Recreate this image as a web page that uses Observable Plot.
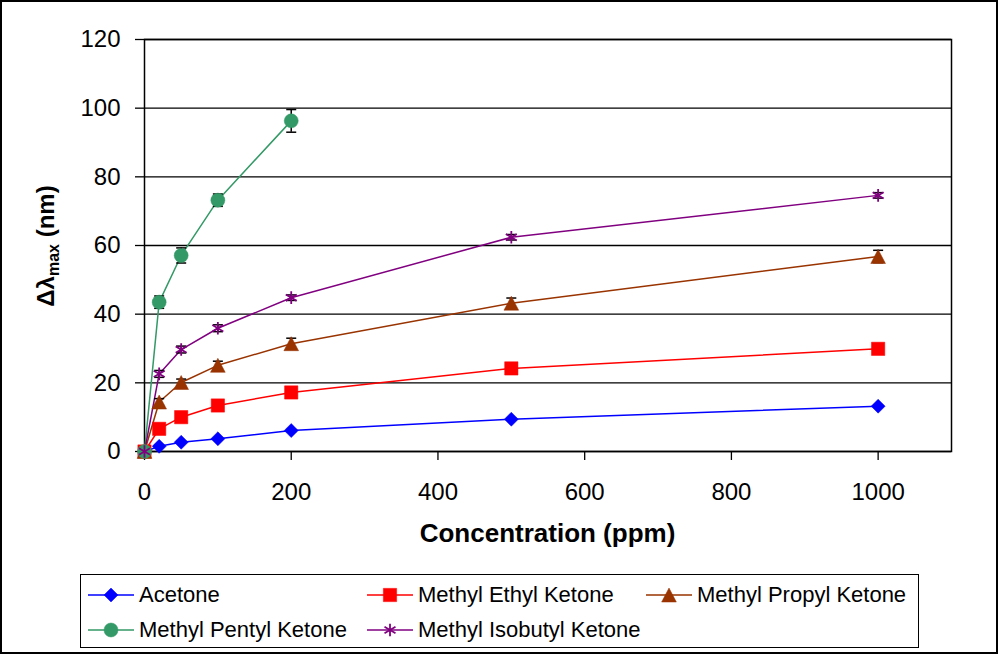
<!DOCTYPE html>
<html>
<head>
<meta charset="utf-8">
<script src="https://cdn.jsdelivr.net/npm/d3@7"></script>
<script src="https://cdn.jsdelivr.net/npm/@observablehq/plot@0.6"></script>
<style>
  html, body { margin: 0; padding: 0; background: white; }
  #wrap { position: relative; width: 1000px; height: 655px; overflow: hidden; font-family: "Liberation Sans", Arial, sans-serif; }
  #outer { position: absolute; left: 0; top: 0; width: 998px; height: 654px; border: 2px solid black; box-sizing: border-box; pointer-events: none; }
  #legend { position: absolute; left: 80px; top: 574px; width: 839px; height: 74px; border: 1.5px solid black; box-sizing: border-box; }
  .item { position: absolute; display: flex; align-items: center; height: 30px; font-size: 22px; color: black; white-space: nowrap; }
  .item svg { margin-right: 5px; }
</style>
</head>
<body>
<div id="wrap">
  <div id="chart"></div>
  <div id="legend"></div>
  <div id="outer"></div>
</div>
<script>
// ---- data ----
const seriesNames = ["Acetone", "Methyl Ethyl Ketone", "Methyl Propyl Ketone", "Methyl Pentyl Ketone", "Methyl Isobutyl Ketone"];
const seriesColors = ["#0000FF", "#FF0000", "#993300", "#339966", "#800080"];
const concAll = [0, 20, 50, 100, 200, 500, 1000];
const concPentyl = [0, 20, 50, 100, 200];
const acetone = [0, 1.5, 2.7, 3.7, 6.1, 9.4, 13.2];
const mek = [0, 6.6, 10.0, 13.4, 17.2, 24.2, 29.9];
const mpk = [0, 14.4, 20.1, 25.1, 31.4, 43.2, 56.8];
const mpentyl = [0, 43.5, 57.1, 73.2, 96.3];
const mibk = [0, 22.6, 29.7, 35.9, 44.8, 62.4, 74.6];
const errAcetone = [0, 0.3, 0.3, 0.3, 0.3, 0.3, 0.3];
const errMek = [0, 0.6, 0.5, 0.8, 0.5, 0.5, 0.8];
const errMpk = [0, 1.0, 1.0, 1.2, 1.6, 1.5, 1.8];
const errMpentyl = [0, 1.8, 2.2, 1.8, 3.3];
const errMibk = [0, 1.0, 1.0, 1.0, 0.8, 0.8, 0.8];
const xTicks = [0, 200, 400, 600, 800, 1000];
const yTicks = [0, 20, 40, 60, 80, 100, 120];
const xLabel = "Concentration (ppm)";

// ---- build table ----
const seriesX = [concAll, concAll, concAll, concPentyl, concAll];
const seriesY = [acetone, mek, mpk, mpentyl, mibk];
const seriesErr = [errAcetone, errMek, errMpk, errMpentyl, errMibk];
const rows = [];
seriesNames.forEach((name, i) => {
  seriesX[i].forEach((x, j) => rows.push({name, x, y: seriesY[i][j], err: seriesErr[i][j]}));
});

// symbols
const triangleSym = { draw(ctx, size) { const r = Math.sqrt(size / Math.PI); ctx.moveTo(0, -r); ctx.lineTo(r * 1.05, r); ctx.lineTo(-r * 1.05, r); ctx.closePath(); } };
const capSym = { draw(ctx, size) { const r = Math.sqrt(size / Math.PI); ctx.moveTo(-r, 0); ctx.lineTo(r, 0); } };
const markerDefs = [
  {symbol: "diamond2", r: 6.3, filled: true},
  {symbol: "square", r: 7.5, filled: true},
  {symbol: triangleSym, r: 7, filled: true},
  {symbol: "circle", r: 7, filled: true},
  {symbol: "asterisk", r: 6.0, filled: false}
];

const errRows = rows.filter(d => d.err > 0);
const marks = [
  Plot.gridY(yTicks, {stroke: "black", strokeOpacity: 1, strokeWidth: 1.3}),
  Plot.frame({stroke: "black", strokeWidth: 1.5}),
  Plot.axisY({ticks: yTicks, tickSize: 9, tickPadding: 15, label: null, fontSize: 24, strokeWidth: 1.3}),
  Plot.axisX({ticks: xTicks, tickSize: 9, tickPadding: 22, label: null, fontSize: 24, strokeWidth: 1.3, tickFormat: d => String(d)}),
  Plot.line(rows, {x: "x", y: "y", z: "name", stroke: d => seriesColors[seriesNames.indexOf(d.name)], strokeWidth: 1.5}),
  Plot.ruleX(errRows, {x: "x", y1: d => d.y - d.err, y2: d => d.y + d.err, stroke: "black", strokeWidth: 1.5}),
  Plot.dot(errRows, {x: "x", y: d => d.y - d.err, symbol: capSym, r: 5, fill: "none", stroke: "black", strokeWidth: 1.5}),
  Plot.dot(errRows, {x: "x", y: d => d.y + d.err, symbol: capSym, r: 5, fill: "none", stroke: "black", strokeWidth: 1.5})
];
seriesNames.forEach((name, i) => {
  const m = markerDefs[i];
  const data = rows.filter(d => d.name === name);
  marks.push(Plot.dot(data, {
    x: "x", y: "y", symbol: m.symbol, r: m.r,
    fill: m.filled ? seriesColors[i] : "none",
    stroke: seriesColors[i],
    strokeWidth: m.filled ? 0.5 : 1.8
  }));
});

const svg = Plot.plot({
  width: 1000, height: 570,
  marginLeft: 144, marginRight: 49, marginTop: 39, marginBottom: 119,
  x: {type: "linear", domain: [0, 1100]},
  y: {type: "linear", domain: [0, 120]},
  style: {fontFamily: "'Liberation Sans', Arial, sans-serif", fontSize: "24px", color: "black", background: "white", overflow: "visible"},
  marks
});

const s = d3.select(svg);
s.append("text")
  .attr("x", 547.5).attr("y", 533).attr("dy", "0.35em")
  .attr("text-anchor", "middle")
  .attr("font-weight", "bold").attr("font-size", 26)
  .attr("fill", "black")
  .text(xLabel);
const yl = s.append("text")
  .attr("transform", "translate(46,246) rotate(-90)")
  .attr("text-anchor", "middle").attr("dy", "0.35em")
  .attr("font-weight", "bold").attr("font-size", 24).attr("fill", "black");
yl.append("tspan").text("Δλ");
yl.append("tspan").attr("font-size", 16).attr("dy", 5).text("max");
yl.append("tspan").attr("dy", -5).text(" (nm)");

document.getElementById("chart").appendChild(svg);

// ---- legend ----
const legend = d3.select("#legend");
const colLeft = [7, 286, 565];
const rowTop = [5, 40];
seriesNames.forEach((name, i) => {
  const col = i < 3 ? i : i - 3;
  const row = i < 3 ? 0 : 1;
  const item = legend.append("div").attr("class", "item")
    .style("left", colLeft[col] + "px").style("top", rowTop[row] + "px");
  const sv = item.append("svg").attr("width", 46).attr("height", 30);
  sv.append("line").attr("x1", 0).attr("x2", 46).attr("y1", 15).attr("y2", 15)
    .attr("stroke", seriesColors[i]).attr("stroke-width", 1.5);
  const m = markerDefs[i];
  const symType = typeof m.symbol === "string"
    ? ({diamond2: d3.symbolDiamond2, square: d3.symbolSquare, circle: d3.symbolCircle, asterisk: d3.symbolAsterisk})[m.symbol]
    : m.symbol;
  sv.append("path").attr("transform", "translate(23,15)")
    .attr("d", d3.symbol(symType, m.r * m.r * Math.PI)())
    .attr("fill", m.filled ? seriesColors[i] : "none")
    .attr("stroke", seriesColors[i]).attr("stroke-width", m.filled ? 0.5 : 1.8);
  item.append("span").text(name);
});
</script>
</body>
</html>
